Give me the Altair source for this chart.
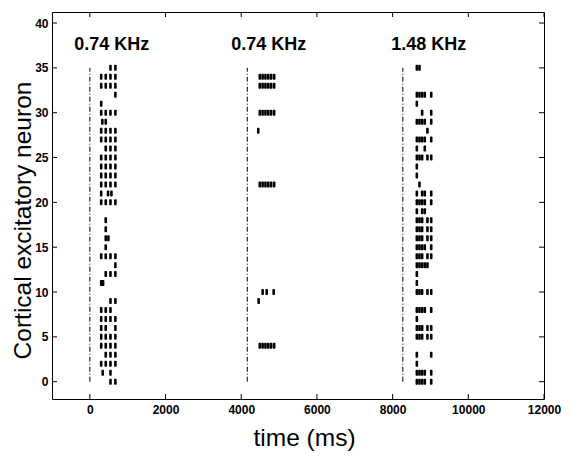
import altair as alt
import pandas as pd

# ---- data ----
stim_onsets = [0, 4160, 8270]          # ms, stimulus onset (dash-dot lines)
stim_top = 35                           # neurons 0..35
labels_text = ["0.74 KHz", "0.74 KHz", "1.48 KHz"]
labels_x = [576, 4726, 8956]
labels_y = [37.6, 37.6, 37.6]

# spikes per neuron (ms) for each stimulus
burst1 = {
    35: [545, 675], 34: [300, 420, 545, 675], 33: [300, 420, 545, 675],
    32: [675], 31: [300], 30: [300, 420, 545, 675], 29: [330, 420],
    28: [300, 420, 545, 675], 27: [300, 420, 545, 675], 26: [420, 545, 675],
    25: [300, 420, 545, 675], 24: [300, 420, 545, 675], 23: [300, 420, 545, 675],
    22: [300, 420, 545, 675], 21: [300, 480, 570], 20: [300, 420, 545, 675],
    18: [420], 17: [420], 16: [420, 490], 15: [420],
    14: [300, 420, 545, 675], 13: [675], 12: [420, 545, 675], 11: [300, 350],
    9: [545, 675], 8: [300, 420, 545], 7: [300, 420, 545, 675],
    6: [300, 420, 675], 5: [300, 420, 545, 675], 4: [300, 420, 545, 675],
    3: [420, 545, 675], 2: [300, 420, 545, 675], 1: [340, 545], 0: [545, 675],
}
burst2 = {
    34: [4490, 4565, 4640, 4715, 4790, 4870],
    33: [4490, 4565, 4640, 4715, 4790, 4870],
    30: [4490, 4565, 4640, 4715, 4790, 4870],
    28: [4450],
    22: [4490, 4565, 4640, 4715, 4790, 4870],
    10: [4566, 4672, 4857],
    9: [4460],
    4: [4490, 4565, 4640, 4715, 4790, 4870],
}
burst3 = {
    35: [8640, 8710], 32: [8640, 8710, 8780, 8850, 9020], 31: [8640],
    30: [8780, 9020], 29: [8640, 8710, 8780, 8850, 9020], 28: [8920],
    27: [8640, 8710, 8780, 8850, 9020], 26: [8640, 8850],
    25: [8640, 8710, 8780, 8920, 9020], 24: [8640], 23: [8640], 22: [8710],
    21: [8640, 8780, 8850, 9020], 20: [8640, 8710, 8780, 8850, 9020],
    19: [8640, 8780, 8850], 18: [8640, 8710, 8780, 8920, 9020],
    17: [8640, 8710, 8780, 8920, 9020], 16: [8640, 8710, 8780, 8920, 9020],
    15: [8640, 8710, 8780, 8850, 9020], 14: [8640, 8710, 8780, 8920, 9020],
    13: [8640, 8710, 8780, 8850, 8920], 12: [8640], 11: [8640],
    10: [8640, 8710, 8780, 8920, 9020], 8: [8640, 8710, 8780, 8850, 9020],
    7: [8640], 6: [8640, 8710, 8780, 8920, 9020], 5: [8640, 8710, 8780, 8920, 9020],
    3: [8640, 9020], 2: [8640], 1: [8640, 8710, 8780, 8850, 9020],
    0: [8640, 8710, 8780, 8850, 9020],
}

x_ticks = [0, 2000, 4000, 6000, 8000, 10000, 12000]
y_ticks = [0, 5, 10, 15, 20, 25, 30, 35, 40]
x_domain = [-1000, 12000]
y_domain = [-1.93, 41.23]

# ---- build tables ----
rows = []
for burst in (burst1, burst2, burst3):
    for n, times in burst.items():
        for t in times:
            rows.append({"time": t, "neuron": n})
spikes = pd.DataFrame(rows)
stim = pd.DataFrame({"onset": stim_onsets, "y0": [0] * 3, "y1": [stim_top] * 3})
labs = pd.DataFrame({"x": labels_x, "y": labels_y, "text": labels_text})
xt = pd.DataFrame({"v": x_ticks})
yt = pd.DataFrame({"v": y_ticks})

FONT = "Liberation Sans"
xscale = alt.Scale(domain=x_domain, nice=False, zero=False)
yscale = alt.Scale(domain=y_domain, nice=False, zero=False)

x_axis = alt.Axis(values=x_ticks, format="d", ticks=False, domain=False,
                  grid=False, labelFontSize=12, labelFontWeight="bold",
                  labelPadding=5, titleFontSize=24.5,
                  titleFontWeight="normal", titleX=252, titleY=46,
                  titleBaseline="alphabetic", titleAlign="center",
                  labelFlush=False)
y_axis = alt.Axis(values=y_ticks, format="d", ticks=False, domain=False,
                  grid=False, labelFontSize=12, labelFontWeight="bold",
                  labelPadding=4, titleFontSize=24.5,
                  titleFontWeight="normal", titleX=-21.5, titleY=208,
                  titleAngle=-90, titleBaseline="alphabetic",
                  titleAlign="center", labelFlush=False)
XT = "time (ms)"
YT = "Cortical excitatory neuron"


def X(field):
    return alt.X(field, scale=xscale, axis=x_axis, title=XT)


def Y(field):
    return alt.Y(field, scale=yscale, axis=y_axis, title=YT)


spike_layer = alt.Chart(spikes).mark_tick(
    orient="vertical", size=6, thickness=2.6, color="black", opacity=1,
    cornerRadius=1
).encode(x=X("time:Q"), y=Y("neuron:Q"))

stim_layer = alt.Chart(stim).mark_rule(
    color="black", strokeWidth=1, strokeDash=[5, 2, 1, 2]
).encode(x=X("onset:Q"), y=Y("y0:Q"), y2="y1:Q")

label_layer = alt.Chart(labs).mark_text(
    font=FONT, fontWeight="bold", fontSize=18, color="black", baseline="middle"
).encode(x=X("x:Q"), y=Y("y:Q"), text="text:N")

tick_style = dict(color="black", size=10, thickness=1, clip=True, opacity=1)
bottom_ticks = alt.Chart(xt).mark_tick(orient="vertical", **tick_style).encode(
    x=X("v:Q"), y=alt.datum(y_domain[0]))
top_ticks = alt.Chart(xt).mark_tick(orient="vertical", **tick_style).encode(
    x=X("v:Q"), y=alt.datum(y_domain[1]))
left_ticks = alt.Chart(yt).mark_tick(orient="horizontal", **tick_style).encode(
    y=Y("v:Q"), x=alt.datum(x_domain[0]))
right_ticks = alt.Chart(yt).mark_tick(orient="horizontal", **tick_style).encode(
    y=Y("v:Q"), x=alt.datum(x_domain[1]))

chart = alt.layer(
    spike_layer, stim_layer, label_layer,
    bottom_ticks, top_ticks, left_ticks, right_ticks,
).properties(
    width=492, height=387,
    padding={"left": 44, "top": 4, "right": 20, "bottom": 55},
    autosize=alt.AutoSizeParams(type="none"),
    background="white",
).configure_view(
    stroke="black", strokeWidth=1
).configure_axis(
    labelFont=FONT, titleFont=FONT, labelColor="black", titleColor="black"
)

chart.save("out.html", embed_options={"renderer": "svg", "actions": False})
